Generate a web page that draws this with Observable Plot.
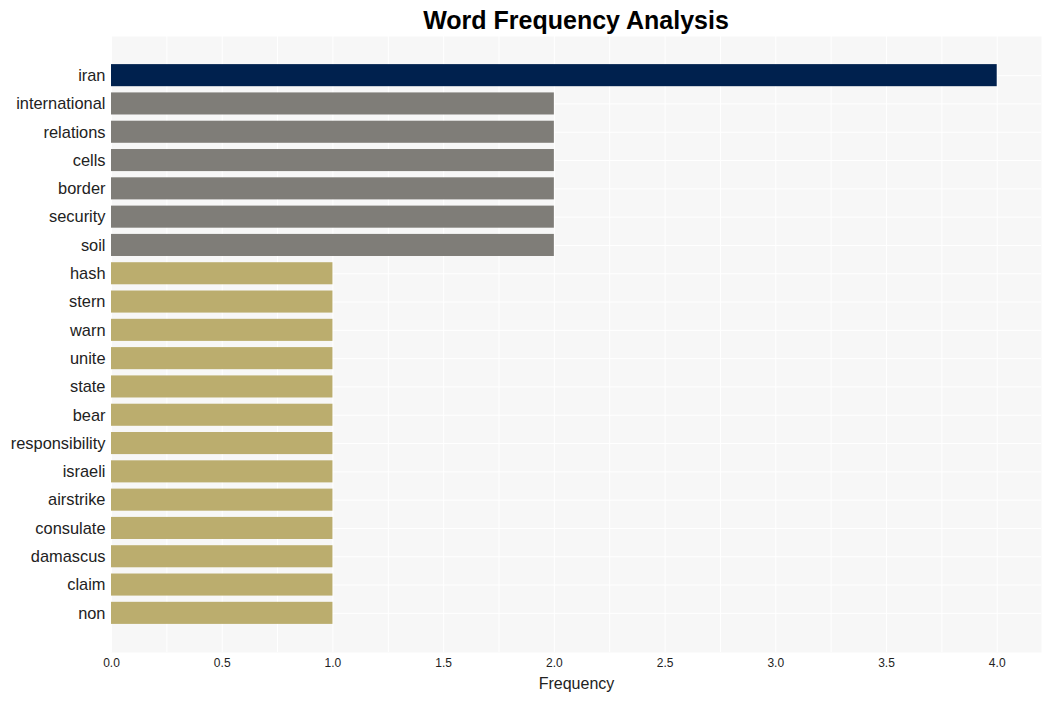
<!DOCTYPE html>
<html>
<head>
<meta charset="utf-8">
<script src="https://cdn.jsdelivr.net/npm/d3@7"></script>
<script src="https://cdn.jsdelivr.net/npm/@observablehq/plot@0.6"></script>
<style>
  html, body { margin: 0; padding: 0; background: #fff; }
  body { width: 1051px; height: 701px; overflow: hidden; font-family: "Liberation Sans", Arial, sans-serif; }
  #title { height: 36px; line-height: 40px; font-size: 25px; font-weight: bold; color: #000; text-align: center; padding-left: 111px; padding-right: 10px; box-sizing: border-box; width: 1051px; }
</style>
</head>
<body>
<div id="title">Word Frequency Analysis</div>
<div id="chart"></div>
<script>
const words = ["iran","international","relations","cells","border","security","soil","hash","stern","warn","unite","state","bear","responsibility","israeli","airstrike","consulate","damascus","claim","non"];
const counts = [4,2,2,2,2,2,2,1,1,1,1,1,1,1,1,1,1,1,1,1];
const groups = ["top","high","high","high","high","high","high","low","low","low","low","low","low","low","low","low","low","low","low","low"];
const groupColors = {top: "#00214e", high: "#7f7d78", low: "#bbad6e"};
const xTicks = [0, 0.5, 1, 1.5, 2, 2.5, 3, 3.5, 4];
const xGrid = d3.range(0, 4.25, 0.25);

const data = words.map((w, i) => ({word: w, count: counts[i], group: groups[i]}));

const chart = Plot.plot({
  width: 1051,
  height: 665,
  marginLeft: 111,
  marginRight: 10,
  marginTop: 0,
  marginBottom: 49,
  style: {fontFamily: "'Liberation Sans', Arial, sans-serif", color: "#222", background: "#fff"},
  x: {domain: [0, 4.2], label: null},
  y: {domain: words, range: [25, 591], paddingInner: 0.22, paddingOuter: 0.11, round: false, label: null},
  marks: [
    Plot.frame({fill: "#f7f7f7", stroke: null}),
    Plot.gridX(xGrid, {stroke: "#fff", strokeOpacity: 1, strokeWidth: 1}),
    Plot.gridY(words, {stroke: "#fff", strokeOpacity: 1, strokeWidth: 1}),
    Plot.barX(data, {x: "count", y: "word", fill: d => groupColors[d.group]}),
    Plot.axisX({ticks: xTicks, tickFormat: d3.format(".1f"), tickSize: 0, tickPadding: 6, fontSize: 12, label: null}),
    Plot.axisY({tickSize: 0, tickPadding: 6, fontSize: 16.4, label: null}),
    Plot.text(["Frequency"], {frameAnchor: "bottom", dy: 36, fontSize: 16, fill: "#222"})
  ]
});
document.getElementById("chart").appendChild(chart);
</script>
</body>
</html>
